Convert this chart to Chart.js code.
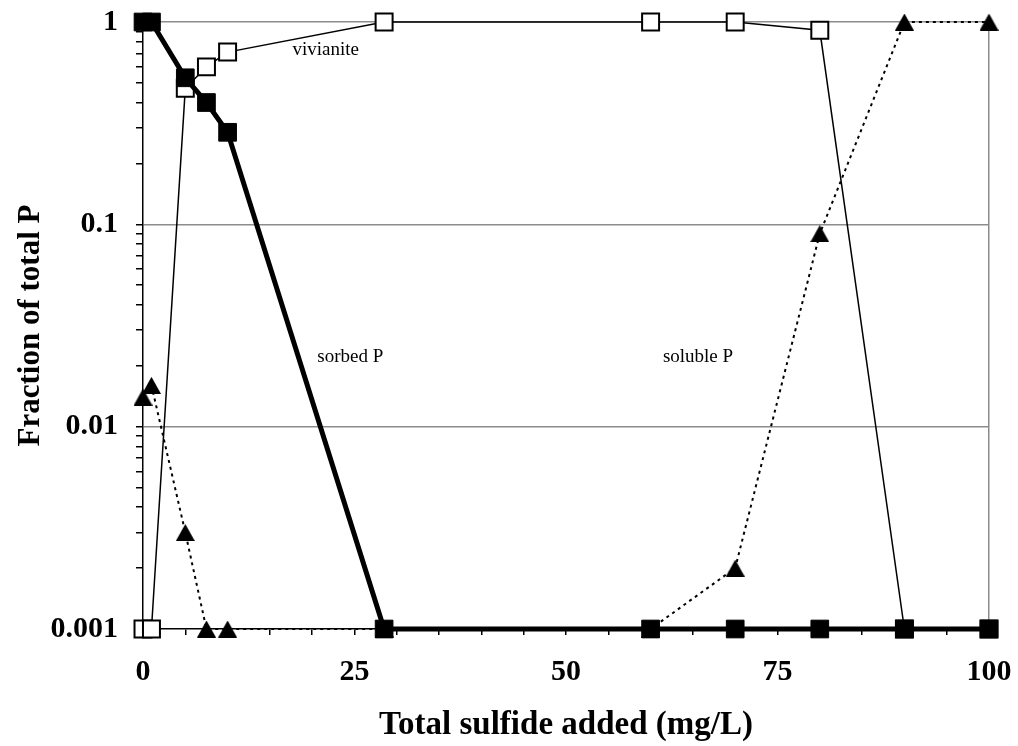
<!DOCTYPE html>
<html>
<head>
<meta charset="utf-8">
<script src="https://cdn.jsdelivr.net/npm/chart.js@4/dist/chart.umd.min.js"></script>
<style>
  html, body { margin: 0; padding: 0; background: #fff; }
  #c { display: block; }
</style>
</head>
<body>
<canvas id="c" width="1018" height="746"></canvas>
<script>
// Total sulfide added (mg/L)
const sulfide   = [0, 1, 5, 7.5, 10, 28.5, 60, 70, 80, 90, 100];
// Fraction of total P in each form (0.001 is the plotting floor)
const sorbedP   = [1, 1, 0.53, 0.40, 0.285, 0.001, 0.001, 0.001, 0.001, 0.001, 0.001];
const vivianite = [0.001, 0.001, 0.47, 0.60, 0.71, 1, 1, 1, 0.91, 0.001, 0.001];
const solubleP  = [0.014, 0.016, 0.003, 0.001, 0.001, 0.001, 0.001, 0.002, 0.09, 1, 1];

const yDecades    = [0.001, 0.01, 0.1, 1];
const yTickLabels = ['0.001', '0.01', '0.1', '1'];
const xLabelEvery = 25;

// Series names written inside the plot
const seriesNotes = [
  { text: 'vivianite', x: 21.6, y: 0.73 },
  { text: 'sorbed P',  x: 24.5, y: 0.022 },
  { text: 'soluble P', x: 65.6, y: 0.022 }
];

const SERIF = "'Liberation Serif', 'Times New Roman', serif";
const NONE = 'rgba(0,0,0,0)';
const GRID = '#8c8c8c';

// Filled triangle marker, centred on its bounding box
function makeTriangle(w, h) {
  const cv = document.createElement('canvas');
  cv.width = w; cv.height = h;
  const g = cv.getContext('2d');
  g.fillStyle = '#000';
  g.beginPath();
  g.moveTo(w / 2, 0);
  g.lineTo(w, h);
  g.lineTo(0, h);
  g.closePath();
  g.fill();
  return cv;
}
const triangle = makeTriangle(19, 17);

function decadeIndex(v) {
  const l = Math.log10(v);
  return Math.abs(l - Math.round(l)) < 1e-9 ? yDecades.findIndex(d => Math.abs(Math.log10(d) - l) < 1e-9) : -1;
}

const notesPlugin = {
  id: 'seriesNotes',
  afterDatasetsDraw(chart) {
    const { ctx, scales: { x, y } } = chart;
    ctx.save();
    ctx.fillStyle = '#000';
    ctx.font = '19px ' + SERIF;
    ctx.textAlign = 'center';
    ctx.textBaseline = 'middle';
    seriesNotes.forEach(n => ctx.fillText(n.text, x.getPixelForValue(n.x), y.getPixelForValue(n.y)));
    ctx.restore();
  }
};

const pts = arr => sulfide.map((s, i) => ({ x: s, y: arr[i] }));

new Chart(document.getElementById('c'), {
  type: 'line',
  data: {
    datasets: [
      {
        label: 'sorbed P',
        data: pts(sorbedP),
        borderColor: '#000',
        borderWidth: 5,
        pointStyle: 'rect',
        pointRadius: 12.5,
        pointBackgroundColor: '#000',
        pointBorderColor: '#000',
        pointBorderWidth: 1,
        clip: false
      },
      {
        label: 'vivianite',
        data: pts(vivianite),
        borderColor: '#000',
        borderWidth: 1.5,
        pointStyle: 'rect',
        pointRadius: 12,
        pointBackgroundColor: '#fff',
        pointBorderColor: '#000',
        pointBorderWidth: 2,
        clip: false
      },
      {
        label: 'soluble P',
        data: pts(solubleP),
        borderColor: '#000',
        borderWidth: 2,
        borderDash: [3, 4],
        pointStyle: triangle,
        pointRadius: 10,
        clip: false
      }
    ]
  },
  options: {
    responsive: false,
    animation: false,
    devicePixelRatio: 1,
    layout: { padding: { left: 0, top: 22, right: 29, bottom: 0 } },
    plugins: { legend: { display: false }, tooltip: { enabled: false } },
    elements: { line: { tension: 0 } },
    scales: {
      x: {
        type: 'linear',
        min: 0,
        max: 100,
        afterFit(scale) {
          scale.height = 117;
          scale.paddingLeft = 0;
          scale.paddingRight = 0;
        },
        ticks: {
          stepSize: 5,
          autoSkip: false,
          maxRotation: 0,
          padding: 19,
          color: '#000',
          font: { family: SERIF, size: 30, weight: 'bold' },
          callback: v => (v % xLabelEvery === 0 ? String(v) : '')
        },
        grid: {
          color: c => (c.tick && c.tick.value === 100 ? GRID : NONE),
          tickColor: '#000',
          tickLength: 6,
          lineWidth: 1.5,
          tickWidth: 1.5
        },
        border: { color: '#000', width: 1.5 },
        title: {
          display: true,
          text: 'Total sulfide added (mg/L)',
          color: '#000',
          font: { family: SERIF, size: 33, weight: 'bold' },
          padding: { top: 0, bottom: 1 }
        }
      },
      y: {
        type: 'logarithmic',
        min: 0.001,
        max: 1,
        afterFit(scale) {
          scale.width = 143;
          scale.paddingTop = 0;
          scale.paddingBottom = 0;
        },
        afterBuildTicks(scale) {
          const list = [];
          yDecades.forEach((d, i) => {
            const steps = i === yDecades.length - 1 ? 1 : 9;
            for (let m = 1; m <= steps; m++) list.push({ value: +(m * d).toPrecision(6) });
          });
          scale.ticks = list;
        },
        ticks: {
          autoSkip: false,
          padding: 18,
          color: '#000',
          font: { family: SERIF, size: 30, weight: 'bold' },
          callback: v => { const k = decadeIndex(v); return k >= 0 ? yTickLabels[k] : ''; }
        },
        grid: {
          color: c => (c.tick && decadeIndex(c.tick.value) > 0 ? GRID : NONE),
          tickColor: '#000',
          tickLength: 7,
          lineWidth: 1.5,
          tickWidth: 1.5
        },
        border: { color: '#000', width: 1.5 },
        title: {
          display: true,
          text: 'Fraction of total P',
          color: '#000',
          font: { family: SERIF, size: 31, weight: 'bold' },
          padding: { top: 12, bottom: 0 }
        }
      }
    }
  },
  plugins: [notesPlugin]
});
</script>
</body>
</html>
